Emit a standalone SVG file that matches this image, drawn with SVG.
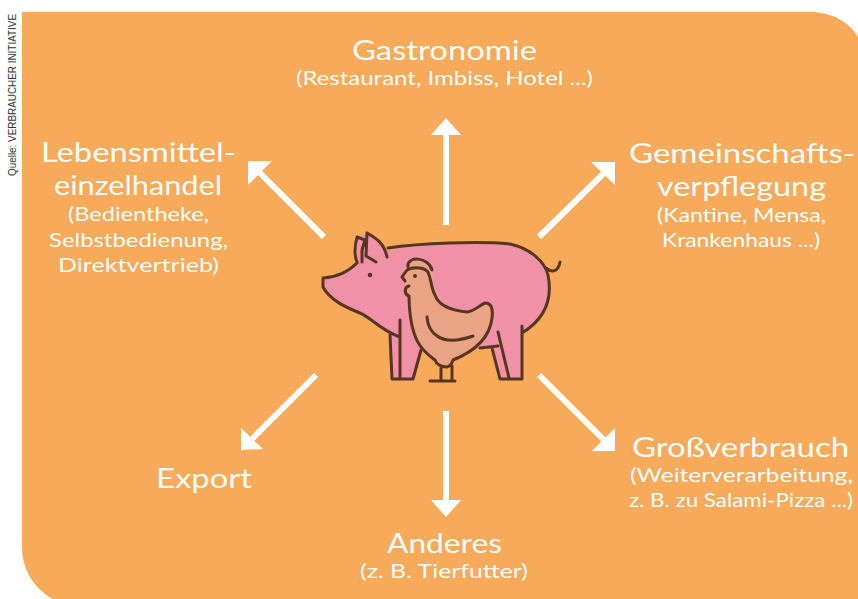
<svg xmlns="http://www.w3.org/2000/svg" width="858" height="599" viewBox="0 0 858 599">
<style>
text{font-family:"Lato","Liberation Sans",sans-serif;fill:#fff;font-weight:400}
.h{font-size:27px}
.s{font-size:19px}
.src{font-family:"Liberation Sans",sans-serif;fill:#333;font-size:11px}
.shaft{stroke:#fff;stroke-width:6;fill:none}
.head{fill:#fff}
.o{stroke:#57361f;stroke-width:3;fill:none;stroke-linecap:round;stroke-linejoin:round}
</style>
<rect width="858" height="599" fill="#fff"/>
<path id="panel" d="M22 12H810C832 12 849 22 858 37V599H53C35 590 22 570 22 547Z" fill="#f7aa5a"/>
<text class="src" transform="translate(16,176) rotate(-90)" textLength="162" lengthAdjust="spacingAndGlyphs">Quelle: VERBRAUCHER INITIATIVE</text>
<g id="connectors">
<path class="shaft" d="M446 225V132"/><path class="head" d="M446 118L461 135H431Z"/>
<path class="shaft" d="M539 237L604 173"/><path class="head" d="M615 162V185L591 162Z"/>
<path class="shaft" d="M324 237L259 172"/><path class="head" d="M248 161H272L248 185Z"/>
<path class="shaft" d="M316 375L252 439"/><path class="head" d="M241 450V428L263 449Z"/>
<path class="shaft" d="M446 411V503"/><path class="head" d="M446 517L431 500H461Z"/>
<path class="shaft" d="M539 375L604 440"/><path class="head" d="M615 451H592L615 428Z"/>
</g>
<g id="node-animals">
<path d="M323 278C340 277 350 270 357 263L357 237L367 233L385 248L388 250C420 243 480 241 510 244C530 247 545 262 548 275C552 295 548 317 522 333V379H500L492 348L480 348L421 350L413 379H392L390 335L360 313C345 307 330 300 323 287Z" fill="#f191a8"/>
<path class="o" d="M323 278C340 277 350 270 357 263M357 262C354 255 355 245 357 237L365 240L362 250L362 262M367 233C376 238 384 243 387 257M367 233L366 256L376 262M388 248C420 243 480 241 510 244C530 248 545 262 548 275C552 295 548 317 522 333M522 326V379H500L492 348M498 332L509 378M480 348L498 346M400 320V378M390 335L392 379H413L421 350M323 279V287C330 300 345 307 360 313C372 318 380 330 400 337M546 268C552 273 558 272 560 262"/>
<circle cx="370" cy="275" r="2.300" fill="#57361f"/>
<path d="M402 277L407 270L408 265C413 257 427 258 432 270C433 278 432 285 435 295C438 304 447 310 467 312C473 312 480 305 485 303C492 303 493 310 492 318C490 335 478 350 453 360L443 367L435 360C425 352 410 345 409 297L405 285Z" fill="#eba386"/>
<path class="o" d="M408 267C406 256 428 256 432 270M402 277L407 270C415 266 425 268 428 272C432 282 431 288 435 295C438 304 447 310 467 312C473 312 480 305 485 303C492 303 493 310 492 318C490 335 478 350 453 360C452 364 450 366 447 367C441 367 436 364 435 360C425 352 410 345 409 297M402 277L405 281M409 286C404 287 404 294 409 296M427 317C428 332 440 348 473 336M441 368V380M452 366V380M430 381H455"/>
<circle cx="415" cy="276" r="2" fill="#57361f"/>
</g>
<g id="node-gastronomie">
<text class="h" x="352" y="60" textLength="185" lengthAdjust="spacingAndGlyphs">Gastronomie</text>
<text class="s" x="296" y="85" textLength="297" lengthAdjust="spacingAndGlyphs">(Restaurant, Imbiss, Hotel ...)</text>
</g>
<g id="node-lebensmittel">
<text class="h" x="41" y="162" textLength="195" lengthAdjust="spacingAndGlyphs">Lebensmittel-</text>
<text class="h" x="54" y="195" textLength="168" lengthAdjust="spacingAndGlyphs">einzelhandel</text>
<text class="s" x="68" y="221" textLength="141" lengthAdjust="spacingAndGlyphs">(Bedientheke,</text>
<text class="s" x="49" y="247" textLength="179" lengthAdjust="spacingAndGlyphs">Selbstbedienung,</text>
<text class="s" x="58" y="272" textLength="161" lengthAdjust="spacingAndGlyphs">Direktvertrieb)</text>
</g>
<g id="node-gemeinschaft">
<text class="h" x="629" y="163" textLength="226" lengthAdjust="spacingAndGlyphs">Gemeinschafts-</text>
<text class="h" x="657" y="196" textLength="169" lengthAdjust="spacingAndGlyphs">verpflegung</text>
<text class="s" x="657" y="222" textLength="169" lengthAdjust="spacingAndGlyphs">(Kantine, Mensa,</text>
<text class="s" x="662" y="247" textLength="158" lengthAdjust="spacingAndGlyphs">Krankenhaus ...)</text>
</g>
<g id="node-export">
<text class="h" x="156" y="488" textLength="96" lengthAdjust="spacingAndGlyphs">Export</text>
</g>
<g id="node-anderes">
<text class="h" x="387" y="553" textLength="115" lengthAdjust="spacingAndGlyphs">Anderes</text>
<text class="s" x="360" y="578" textLength="168" lengthAdjust="spacingAndGlyphs">(z. B. Tierfutter)</text>
</g>
<g id="node-grossverbrauch">
<text class="h" x="632" y="457" textLength="217" lengthAdjust="spacingAndGlyphs">Großverbrauch</text>
<text class="s" x="630" y="482" textLength="223" lengthAdjust="spacingAndGlyphs">(Weiterverarbeitung,</text>
<text class="s" x="629" y="507" textLength="224" lengthAdjust="spacingAndGlyphs">z. B. zu Salami-Pizza ...)</text>
</g>
</svg>
